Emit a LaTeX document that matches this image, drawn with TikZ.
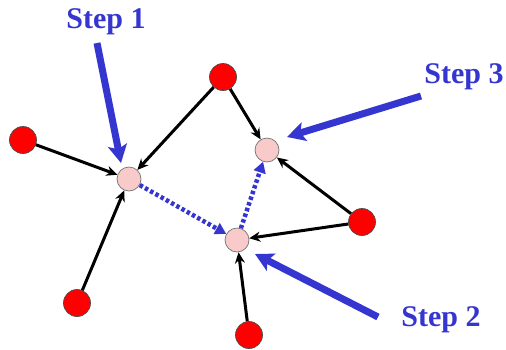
\documentclass[tikz,border=0pt]{standalone}
\usepackage{fontspec}
\setmainfont{Liberation Serif}
\usetikzlibrary{arrows.meta}
\definecolor{stepblue}{HTML}{3535D0}
\definecolor{nodered}{HTML}{FF0000}
\definecolor{nodepink}{HTML}{F8CACA}
\tikzset{
  rednode/.style={circle, fill=nodered, draw=black!70, line width=0.7pt, minimum size=27pt, inner sep=0pt},
  pinknode/.style={circle, fill=nodepink, draw=black!55, line width=0.7pt, minimum size=24pt, inner sep=0pt},
  edge/.style={-{Stealth[length=11pt,width=10pt]}, line width=3pt, black},
  flow/.style={-{Triangle[length=11pt,width=12pt]}, line width=4.5pt, stepblue, dash pattern=on 3.5pt off 2.5pt},
  pointer/.style={-{Stealth[length=18pt,width=19pt,inset=4pt]}, line width=7pt, stepblue},
  steplabel/.style={font=\bfseries\fontsize{30}{33}\selectfont, text=stepblue, inner sep=0pt}
}
\begin{document}
\begin{tikzpicture}[x=1pt,y=-1pt]
\useasboundingbox (0,0) rectangle (506,349);
% red nodes
\node[rednode] (r1) at (23,140) {};
\node[rednode] (r2) at (223,77) {};
\node[rednode] (r3) at (362,222) {};
\node[rednode] (r4) at (77,303) {};
\node[rednode] (r5) at (249,335) {};
% pink nodes
\node[pinknode] (p1) at (129,179) {};
\node[pinknode] (p2) at (237,240) {};
\node[pinknode] (p3) at (267,150) {};
% black edges
\draw[edge] (r1) -- (p1);
\draw[edge] (r2) -- (p1);
\draw[edge] (r2) -- (p3);
\draw[edge] (r4) -- (p1);
\draw[edge] (r3) -- (p3);
\draw[edge] (r3) -- (p2);
\draw[edge] (r5) -- (p2);
% blue dotted flow
\draw[flow] (p1) -- (p2);
\draw[flow] (p2) -- (p3);
% labels
\node[steplabel] (s1) at (106,22) {Step 1};
\node[steplabel] (s3) at (464,77) {Step 3};
\node[steplabel] (s2) at (441,320) {Step 2};
\coordinate (s1from) at (97,43);
\coordinate (s1to) at (121,163);
\coordinate (s3from) at (421,96);
\coordinate (s3to) at (287,137);
\coordinate (s2from) at (378,317);
\coordinate (s2to) at (255,254);
\draw[pointer] (s1from) -- (s1to);
\draw[pointer] (s3from) -- (s3to);
\draw[pointer] (s2from) -- (s2to);
\end{tikzpicture}
\end{document}
